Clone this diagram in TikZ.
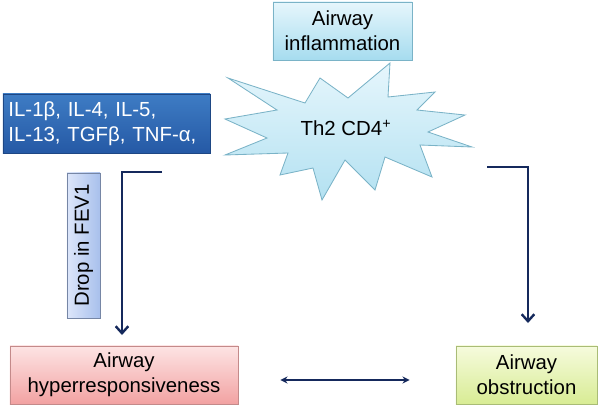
\documentclass[tikz,border=0pt]{standalone}
\usepackage{fontspec}
\setmainfont{Liberation Sans}
\usetikzlibrary{arrows.meta}

\definecolor{navy}{HTML}{15295C}
\definecolor{cyanlite}{HTML}{E6F6FC}
\definecolor{cyandark}{HTML}{A6DCEF}
\definecolor{cyanline}{HTML}{7AB3C7}
\definecolor{cytotop}{HTML}{3E7CC4}
\definecolor{cytobot}{HTML}{2559A5}
\definecolor{fevlite}{HTML}{DDE6FA}
\definecolor{fevdark}{HTML}{A8C0EC}
\definecolor{pinklite}{HTML}{FDE4E4}
\definecolor{pinkdark}{HTML}{F2A2A2}
\definecolor{pinkline}{HTML}{C48A8A}
\definecolor{greenlite}{HTML}{F6FBDD}
\definecolor{greendark}{HTML}{D8EC94}
\definecolor{greenline}{HTML}{A9BC76}

\tikzset{
  box/.style={rectangle, draw, line width=0.6pt, align=center,
    font=\fontsize{14.5}{17.5}\selectfont, inner sep=0pt},
  link/.style={draw=navy, line width=1.7pt, -{Straight Barb[length=5pt,width=9pt]}}
}

\begin{document}
\begin{tikzpicture}[x=0.025cm, y=-0.025cm]
  % Rahmen
  \useasboundingbox (0,0) rectangle (600,409);
  % Entzuendung
  \node[box, draw=cyanline, top color=cyanlite, bottom color=cyandark,
    minimum width=3.475cm, minimum height=1.45cm] (inflam) at (342.5,31)
    {Airway\\inflammation};
  % Stern
  \draw[cyanline, line width=0.6pt, top color=cyanlite, bottom color=cyandark!85]
    (228,78) -- (305,103) -- (320,78) -- (348,98) -- (390,63) -- (388,97)
    -- (435,92) -- (417,110) -- (465,115) -- (428,132) -- (472,147)
    -- (420,145) -- (432,177) -- (385,157) -- (375,190) -- (345,160)
    -- (322,200) -- (313,168) -- (280,175) -- (288,153) -- (225,155)
    -- (267,138) -- (225,119) -- (277,110) -- cycle;
  \node[font=\fontsize{14.5}{17.5}\selectfont] (th2) at (346,128) {Th2 CD4\textsuperscript{+}};
  % Zytokine
  \node[box, draw=cytobot!80!black, top color=cytotop, bottom color=cytobot,
    text=white, align=left, minimum width=5.175cm, minimum height=1.475cm,
    text width=4.9cm] (cyto) at (106.5,123.5)
    {IL-1β, IL-4, IL-5,\\IL-13, TGFβ, TNF-α,};
  % FEV1
  \node[box, draw=fevdark!70!black, left color=fevlite, right color=fevdark,
    minimum width=3.625cm, minimum height=0.825cm, rotate=90] (fev) at (83.5,245.5)
    {Drop in FEV1};
  % Ergebnisse
  \node[box, draw=pinkline, top color=pinklite, bottom color=pinkdark,
    minimum width=5.7cm, minimum height=1.45cm] (hyper) at (124,375)
    {Airway\\hyperresponsiveness};
  \node[box, draw=greenline, top color=greenlite, bottom color=greendark,
    minimum width=3.525cm, minimum height=1.45cm] (obstr) at (526.5,375)
    {Airway\\obstruction};
  % Pfeile
  \coordinate (lstart) at (162,172);
  \coordinate (lend) at (122,335);
  \draw[link] (lstart) -| (lend);
  \coordinate (rstart) at (487,167);
  \coordinate (rend) at (528,323);
  \draw[link] (rstart) -| (rend);
  \draw[draw=navy, line width=1.5pt, {Stealth[length=5pt,width=5pt]}-{Stealth[length=5pt,width=5pt]}]
    ([xshift=1.05cm,yshift=-0.125cm]hyper.east) -- ([xshift=-1.15cm,yshift=-0.125cm]obstr.west);
\end{tikzpicture}
\end{document}
